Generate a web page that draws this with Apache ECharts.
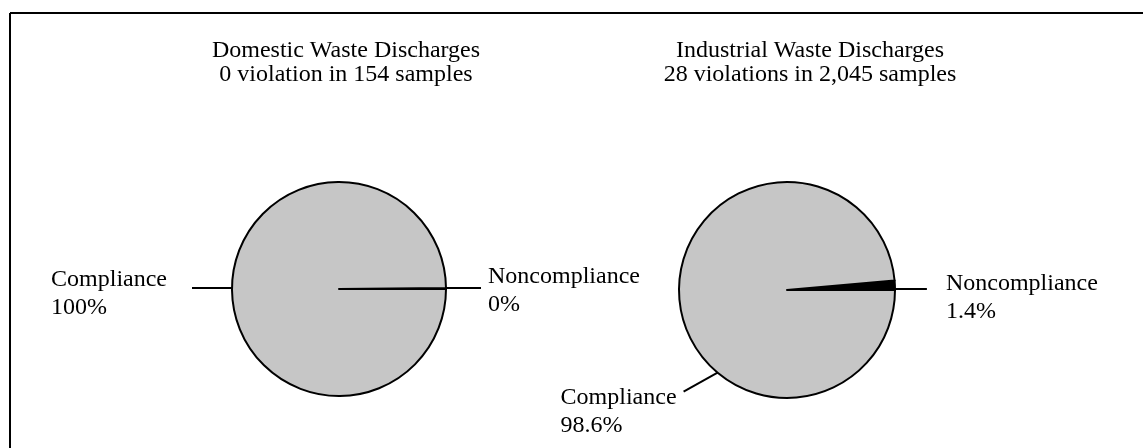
<!DOCTYPE html>
<html>
<head>
<meta charset="utf-8">
<script src="https://cdn.jsdelivr.net/npm/echarts@6/dist/echarts.min.js"></script>
<style>
  html, body { margin: 0; padding: 0; background: #fff; }
  #chart { width: 1143px; height: 448px; }
</style>
</head>
<body>
<div id="chart"></div>
<script>
// 数据
var categories = ['Noncompliance', 'Compliance'];
var domesticValues = [0, 100];
var industrialValues = [1.4, 98.6];
var domesticTitle = ['Domestic Waste Discharges', '0 violation in 154 samples'];
var industrialTitle = ['Industrial Waste Discharges', '28 violations in 2,045 samples'];

var FONT = 'Liberation Serif';
var FILL = '#c6c6c6';

function buildData(values, sliceColors) {
    var data = [];
    for (var i = 0; i < categories.length; i++) {
        data.push({
            name: categories[i],
            value: values[i],
            itemStyle: { color: sliceColors[i] }
        });
    }
    return data;
}

/**
 * 标签位置: 引导线水平, 文字左对齐
 * lens/gaps/dys: [左侧, 右侧]
 */
function makeLabelLayout(center, radius, lens, gaps, dys, special) {
    return function (p) {
        var pts = p.labelLinePoints;
        var name = categories[p.dataIndex];
        if (special && special.name === name) {
            var a = special.angle * Math.PI / 180;
            var sx = center[0] + radius * Math.cos(a);
            var sy = center[1] - radius * Math.sin(a);
            var ex = sx + special.dx;
            var ey = sy + special.dy;
            return {
                x: ex - special.gap - p.labelRect.width,
                y: ey - 8,
                align: 'left',
                verticalAlign: 'top',
                labelLinePoints: [[sx, sy], [(sx + ex) / 2, (sy + ey) / 2], [ex, ey]]
            };
        }
        var start = pts[0];
        var onLeft = pts[pts.length - 1][0] < start[0];
        var side = onLeft ? 0 : 1;
        var endX = onLeft ? start[0] - lens[0] : start[0] + lens[1];
        var y = center[1] - 1;
        return {
            x: onLeft ? endX - gaps[0] - p.labelRect.width : endX + gaps[1],
            y: y + dys[side],
            align: 'left',
            verticalAlign: 'middle',
            labelLinePoints: [[start[0], y], [(start[0] + endX) / 2, y], [endX, y]]
        };
    };
}

function pieSeries(center, radius, values, sliceColors, lens, gaps, dys, minAngle, special) {
    return {
        type: 'pie',
        center: center,
        radius: radius,
        startAngle: 0,
        clockwise: false,
        minAngle: minAngle,
        avoidLabelOverlap: false,
        silent: true,
        data: buildData(values, sliceColors),
        itemStyle: {
            borderColor: '#000',
            borderWidth: 2
        },
        label: {
            show: true,
            position: 'outside',
            formatter: '{b}\n{c}%',
            fontFamily: FONT,
            fontSize: 24,
            lineHeight: 28,
            color: '#000'
        },
        labelLine: {
            show: true,
            length: 15,
            length2: 20,
            lineStyle: { color: '#000', width: 2 }
        },
        labelLayout: makeLabelLayout(center, radius, lens, gaps, dys, special)
    };
}

var chart = echarts.init(document.getElementById('chart'));
var titleStyle = { fontFamily: FONT, fontSize: 24, fontWeight: 'normal', lineHeight: 24, color: '#000' };
var option = {
    backgroundColor: '#fff',
    animation: false,
    title: [
        { text: domesticTitle.join('\n'), left: 341, top: 34, textAlign: 'center', textStyle: titleStyle },
        { text: industrialTitle.join('\n'), left: 805, top: 34, textAlign: 'center', textStyle: titleStyle }
    ],
    graphic: [
        { type: 'line', shape: { x1: 10, y1: 13, x2: 1143, y2: 13 }, style: { stroke: '#000', lineWidth: 2 } },
        { type: 'line', shape: { x1: 10, y1: 13, x2: 10, y2: 448 }, style: { stroke: '#000', lineWidth: 2 } }
    ],
    series: [
        pieSeries([339, 289], 107, domesticValues, ['#000', FILL], [40, 35], [25, 7], [6, 3], 0.5, null),
        pieSeries([787, 290], 108, industrialValues, ['#000', FILL], [40, 32], [25, 19], [6, 9], 0,
            { name: 'Compliance', angle: 230, dx: -34, dy: 19, gap: 7 })
    ]
};
chart.setOption(option);
</script>
</body>
</html>
